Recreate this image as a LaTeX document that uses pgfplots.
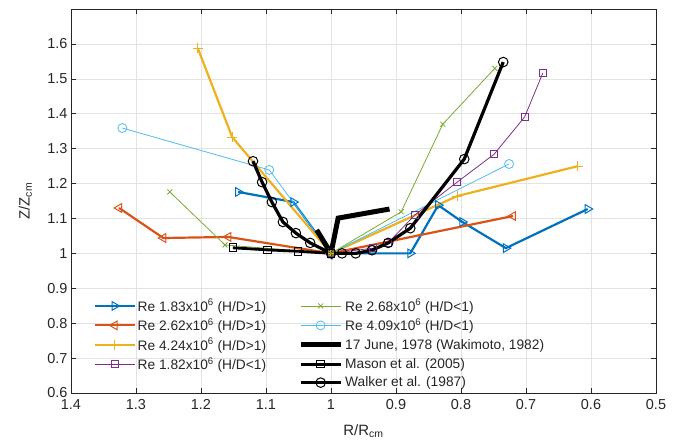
\documentclass[border=0pt]{standalone}
\usepackage{pgfplots}
\pgfplotsset{compat=1.18}
\usepackage{fontspec}
\setmainfont{Liberation Sans}
\definecolor{mblue}{rgb}{0,0.447,0.741}
\definecolor{morange}{rgb}{0.85,0.325,0.098}
\definecolor{myellow}{rgb}{0.929,0.694,0.125}
\definecolor{mpurple}{rgb}{0.494,0.184,0.556}
\definecolor{mgreen}{rgb}{0.466,0.674,0.188}
\definecolor{mcyan}{rgb}{0.301,0.745,0.933}
\definecolor{axgray}{rgb}{0.15,0.15,0.15}
\begin{document}
\begin{tikzpicture}
\begin{axis}[
  scale only axis, width=585bp, height=384bp,
  at={(0,0)}, anchor=south west,
  x dir=reverse, xmin=0.5, xmax=1.4, ymin=0.6, ymax=1.7,
  xtick={0.5,0.6,0.7,0.8,0.9,1,1.1,1.2,1.3,1.4},
  ytick={0.6,0.7,0.8,0.9,1,1.1,1.2,1.3,1.4,1.5,1.6},
  grid=major, grid style={gray!22, line width=0.5bp},
  tick align=inside, major tick length=5bp,
  axis line style={axgray, line width=0.6bp},
  tick style={axgray, line width=0.6bp},
  tick label style={font=\fontsize{14.5}{16}\selectfont, text=axgray},
  xticklabel style={yshift=-3bp},
  /pgf/number format/assume math mode=true,
  xlabel={R/R\textsubscript{cm}}, ylabel={Z/Z\textsubscript{cm}},
  label style={font=\fontsize{15}{17}\selectfont, text=axgray},
  xlabel style={at={(axis description cs:0.5,-0.10)}, anchor=center},
  ylabel style={at={(axis description cs:-0.078,0.5)}, anchor=center},
  legend columns=2,
  legend style={draw=none, fill=none, at={(axis description cs:0.033,0.255)}, anchor=north west,
    font=\fontsize{13.8}{16}\selectfont, text=axgray, row sep=2bp,
    cells={anchor=west},
    /tikz/every even column/.append style={column sep=30bp}},
  legend image code/.code={\draw[mark repeat=2,mark phase=2,#1] plot coordinates {(0bp,0bp)(20bp,0bp)(40bp,0bp)};},
]
% Re 1.83 (H/D>1)
\addplot[forget plot, mblue, line width=2.2bp, mark=triangle, mark size=5bp, mark options={solid, fill=none, rotate=-90, line width=1bp}]
  coordinates {(1.143,1.176)(1.058,1.147)(1,1)(0.878,1.0)(0.835,1.138)(0.798,1.09)(0.731,1.015)(0.605,1.127)};
% Re 2.62 (H/D>1)
\addplot[forget plot, morange, line width=2.2bp, mark=triangle, mark size=5bp, mark options={solid, fill=none, rotate=90, line width=1bp}]
  coordinates {(1.326,1.130)(1.258,1.044)(1.158,1.047)(1,1)(0.72,1.107)};
% Re 4.24 (H/D>1)
\addplot[forget plot, myellow, line width=2.2bp, mark=+, mark size=5bp, mark options={solid, line width=1bp}]
  coordinates {(1.205,1.588)(1.152,1.333)(1,1)(0.806,1.164)(0.62,1.25)};
% Re 1.82 (H/D<1)
\addplot[forget plot, mpurple, line width=0.8bp, mark=square, mark size=3.5bp, mark options={solid, fill=none}]
  coordinates {(1,1)(0.935,1.015)(0.912,1.03)(0.871,1.11)(0.806,1.204)(0.749,1.284)(0.702,1.391)(0.674,1.517)};
% Re 2.68 (H/D<1)
\addplot[forget plot, mgreen, line width=0.8bp, mark=x, mark size=3.5bp, mark options={solid}]
  coordinates {(1.248,1.176)(1.163,1.024)(1,1)(0.892,1.119)(0.828,1.37)(0.748,1.53)};
% Re 4.09 (H/D<1)
\addplot[forget plot, mcyan, line width=0.8bp, mark=o, mark size=4.5bp, mark options={solid, fill=none}]
  coordinates {(1.321,1.359)(1.095,1.239)(1,1)(0.726,1.256)};
% 17 June 1978
\addplot[forget plot, black, line width=5bp, line join=miter]
  coordinates {(1.022,1.067)(1,1)(0.989,1.101)(0.91,1.127)};
% Mason
\addplot[forget plot, black, line width=2.8bp, mark=square, mark size=3.8bp, mark options={solid, fill=none, line width=1bp}]
  coordinates {(1.151,1.016)(1.098,1.01)(1.051,1.006)(1,1)};
% Walker
\addplot[forget plot, black, line width=3.2bp, mark=o, mark size=4.8bp, mark options={solid, fill=none, line width=1bp}]
  coordinates {(1.12,1.264)(1.106,1.204)(1.091,1.147)(1.074,1.09)(1.054,1.058)(1.032,1.03)(1,1)(0.983,1.0)(0.962,1.0)(0.937,1.009)(0.912,1.03)(0.878,1.072)(0.795,1.27)(0.735,1.548)};
% legend (row-major, two columns)
\addlegendimage{mblue, line width=2.2bp, mark=triangle, mark size=5bp, mark options={solid, fill=none, rotate=-90, line width=1bp}}
\addlegendentry{Re 1.83x10\textsuperscript{6} (H/D>1)}
\addlegendimage{mgreen, line width=0.8bp, mark=x, mark size=3.5bp, mark options={solid}}
\addlegendentry{Re 2.68x10\textsuperscript{6} (H/D<1)}
\addlegendimage{morange, line width=2.2bp, mark=triangle, mark size=5bp, mark options={solid, fill=none, rotate=90, line width=1bp}}
\addlegendentry{Re 2.62x10\textsuperscript{6} (H/D>1)}
\addlegendimage{mcyan, line width=0.8bp, mark=o, mark size=4.5bp, mark options={solid, fill=none}}
\addlegendentry{Re 4.09x10\textsuperscript{6} (H/D<1)}
\addlegendimage{myellow, line width=2.2bp, mark=+, mark size=5bp, mark options={solid, line width=1bp}}
\addlegendentry{Re 4.24x10\textsuperscript{6} (H/D>1)}
\addlegendimage{black, line width=5bp}
\addlegendentry{17 June, 1978 (Wakimoto, 1982)}
\addlegendimage{mpurple, line width=0.8bp, mark=square, mark size=3.5bp, mark options={solid, fill=none}}
\addlegendentry{Re 1.82x10\textsuperscript{6} (H/D<1)}
\addlegendimage{black, line width=2.8bp, mark=square, mark size=3.8bp, mark options={solid, fill=none, line width=1bp}}
\addlegendentry{Mason et al. (2005)}
\addlegendimage{empty legend}
\addlegendentry{}
\addlegendimage{black, line width=3.2bp, mark=o, mark size=4.8bp, mark options={solid, fill=none, line width=1bp}}
\addlegendentry{Walker et al. (1987)}
\end{axis}
\pgfresetboundingbox
\path (-71bp,-52bp) rectangle (615bp,393bp);
\end{tikzpicture}
\end{document}
